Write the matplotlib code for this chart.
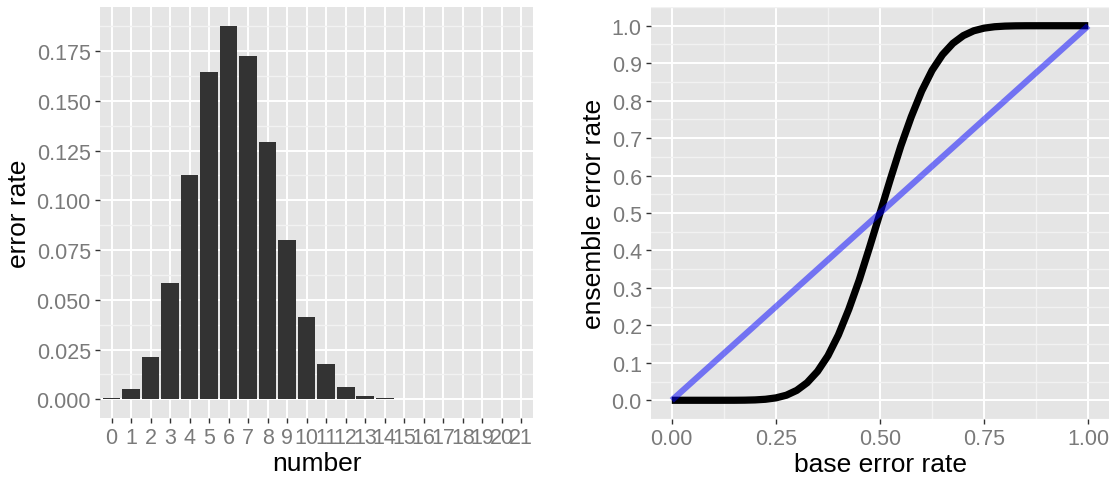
import matplotlib
matplotlib.use("Agg")
import matplotlib.pyplot as plt
from matplotlib.ticker import MultipleLocator

plt.rcParams["font.family"] = ["Liberation Sans", "DejaVu Sans"]

# distribution of the number of wrong base classifiers (21 voters)
number = list(range(22))
error_rate = [0.0006, 0.0050, 0.0215, 0.0585, 0.1128, 0.1643, 0.1878, 0.1725,
              0.1294, 0.0801, 0.0412, 0.0177, 0.0063, 0.0019, 0.0005, 0.0001,
              0.0, 0.0, 0.0, 0.0, 0.0, 0.0]

# majority-vote error vs. single-model error
base_rate = [0.0, 0.05, 0.1, 0.15, 0.175, 0.2, 0.225, 0.25, 0.275, 0.3, 0.325,
             0.35, 0.375, 0.4, 0.425, 0.45, 0.475, 0.5, 0.525, 0.55, 0.575,
             0.6, 0.625, 0.65, 0.675, 0.7, 0.725, 0.75, 0.775, 0.8, 0.825,
             0.85, 0.9, 0.95, 1.0]
ensemble_rate = [0.0, 0.0, 0.0, 0.00005, 0.0003, 0.001, 0.0027, 0.0064, 0.0135,
                 0.0264, 0.047, 0.0772, 0.119, 0.1744, 0.243, 0.321, 0.409,
                 0.5, 0.591, 0.679, 0.757, 0.8256, 0.881, 0.9228, 0.953,
                 0.9736, 0.9865, 0.9936, 0.9973, 0.999, 0.9997, 0.99995, 1.0,
                 1.0, 1.0]

PANEL = "#E5E5E5"
TICK_TXT = "#7a7a7a"


def gg_style(ax):
    ax.set_facecolor(PANEL)
    for s in ax.spines.values():
        s.set_visible(False)
    ax.grid(which="major", color="white", linewidth=1.4)
    ax.grid(which="minor", color="#F2F2F2", linewidth=1.0)
    ax.set_axisbelow(True)
    ax.tick_params(which="major", length=3.6, width=1, color="#333333",
                   labelcolor=TICK_TXT, labelsize=15.5, pad=3)
    ax.tick_params(which="minor", length=0)


fig = plt.figure(figsize=(11.12, 4.85), dpi=100)

# left: histogram of wrong votes
ax1 = fig.add_axes([0.0899, 0.1361, 0.3894, 0.8474])
gg_style(ax1)
ax1.bar(number, error_rate, width=0.9, color="#333333", zorder=2)
ax1.set_xlim(-0.6, 21.6)
ax1.set_ylim(-0.0094, 0.1972)
ax1.set_xticks(number)
ax1.set_xticklabels([str(n) for n in number])
ax1.yaxis.set_minor_locator(MultipleLocator(0.0125))
ax1.set_yticks([i * 0.025 for i in range(8)])
ax1.set_yticklabels([f"{i * 0.025:.3f}" for i in range(8)])
ax1.set_xlabel("number", fontsize=19, labelpad=2)
ax1.set_ylabel("error rate", fontsize=19, labelpad=4)

# right: ensemble error rate curve
ax2 = fig.add_axes([0.5854, 0.134, 0.4120, 0.8495])
gg_style(ax2)
ax2.plot(base_rate, ensemble_rate, color="black", linewidth=5.2,
         solid_capstyle="butt", solid_joinstyle="round", zorder=3)
ax2.plot([0, 1], [0, 1], color="blue", alpha=0.5, linewidth=4.4,
         solid_capstyle="butt", zorder=4)
ax2.set_xlim(-0.05, 1.05)
ax2.set_ylim(-0.05, 1.05)
ax2.set_xticks([0, 0.25, 0.5, 0.75, 1.0])
ax2.set_xticklabels(["0.00", "0.25", "0.50", "0.75", "1.00"])
ax2.xaxis.set_minor_locator(MultipleLocator(0.125))
ax2.set_yticks([i / 10 for i in range(11)])
ax2.set_yticklabels([f"{i / 10:.1f}" for i in range(11)])
ax2.yaxis.set_minor_locator(MultipleLocator(0.05))
ax2.set_xlabel("base error rate", fontsize=19, labelpad=2)
ax2.set_ylabel("ensemble error rate", fontsize=19, labelpad=4)

fig.savefig("out.png", dpi=100)
